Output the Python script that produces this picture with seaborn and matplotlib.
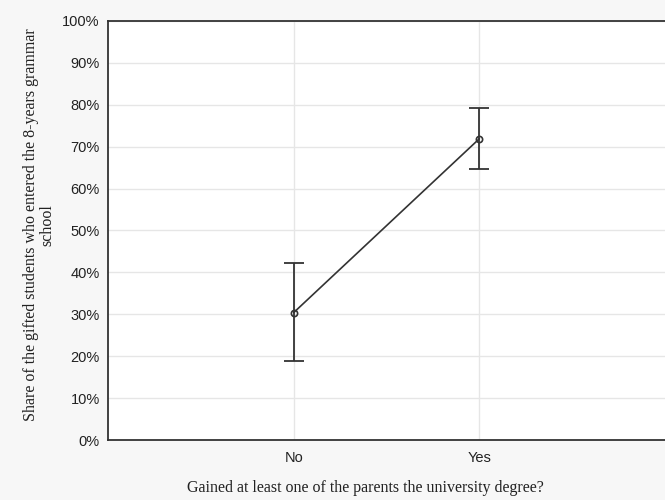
import numpy as np
import pandas as pd
import seaborn as sns
import matplotlib.pyplot as plt
from matplotlib.ticker import PercentFormatter

# values (share in %)
categories = ["No", "Yes"]
share_mean = [30.4, 71.9]
share_low = [18.9, 64.7]
share_high = [42.3, 79.3]

df = pd.DataFrame({"degree": categories, "share": share_mean})

sns.set_style("white")
plt.rcParams['font.family'] = ['Liberation Sans', 'DejaVu Sans']

fig = plt.figure(figsize=(6.65, 5.0), dpi=100, facecolor='#f7f7f7')
ax = fig.add_axes([0.1624, 0.12, 0.8376, 0.838])
ax.set_facecolor('white')

sns.pointplot(data=df, x="degree", y="share", order=categories, errorbar=None,
              color='#333333', markers='o', linestyles='-', ax=ax,
              markersize=4.5, linewidth=1.2, markerfacecolor='none',
              markeredgewidth=1.2)

# error bars from the read-off interval limits
xpos = np.arange(len(categories))
mean = np.array(share_mean)
yerr = [mean - np.array(share_low), np.array(share_high) - mean]
ax.errorbar(xpos, mean, yerr=yerr, fmt='none', ecolor='#333333',
            elinewidth=1.3, capsize=7, capthick=1.3, zorder=3)

ax.set_xlim(-1, 2)
ax.set_ylim(0, 100)
ax.set_yticks(np.arange(0, 101, 10))
ax.yaxis.set_major_formatter(PercentFormatter(decimals=0))
ax.grid(True, color='#e6e6e6', linewidth=1)
ax.set_axisbelow(True)

for side in ['left', 'bottom', 'top']:
    ax.spines[side].set_color('#333333')
    ax.spines[side].set_linewidth(1.3)
ax.spines['right'].set_visible(False)

ax.tick_params(axis='both', direction='in', length=3, color='#555555',
               labelsize=10.5, labelcolor='#222222')
ax.tick_params(axis='y', pad=6)
ax.tick_params(axis='x', pad=8)

ax.set_xlabel("Gained at least one of the parents the university degree?",
              family=['Liberation Serif', 'DejaVu Serif'], fontsize=11.5,
              color='#222222')
ax.set_ylabel("Share of the gifted students who entered the 8-years grammar\nschool",
              family=['Liberation Serif', 'DejaVu Serif'], fontsize=11.5,
              color='#222222', linespacing=1.0)
ax.xaxis.set_label_coords(0.463, -0.095)
ax.yaxis.set_label_coords(-0.095, 0.513)

fig.savefig("out.png", dpi=100, facecolor=fig.get_facecolor())
